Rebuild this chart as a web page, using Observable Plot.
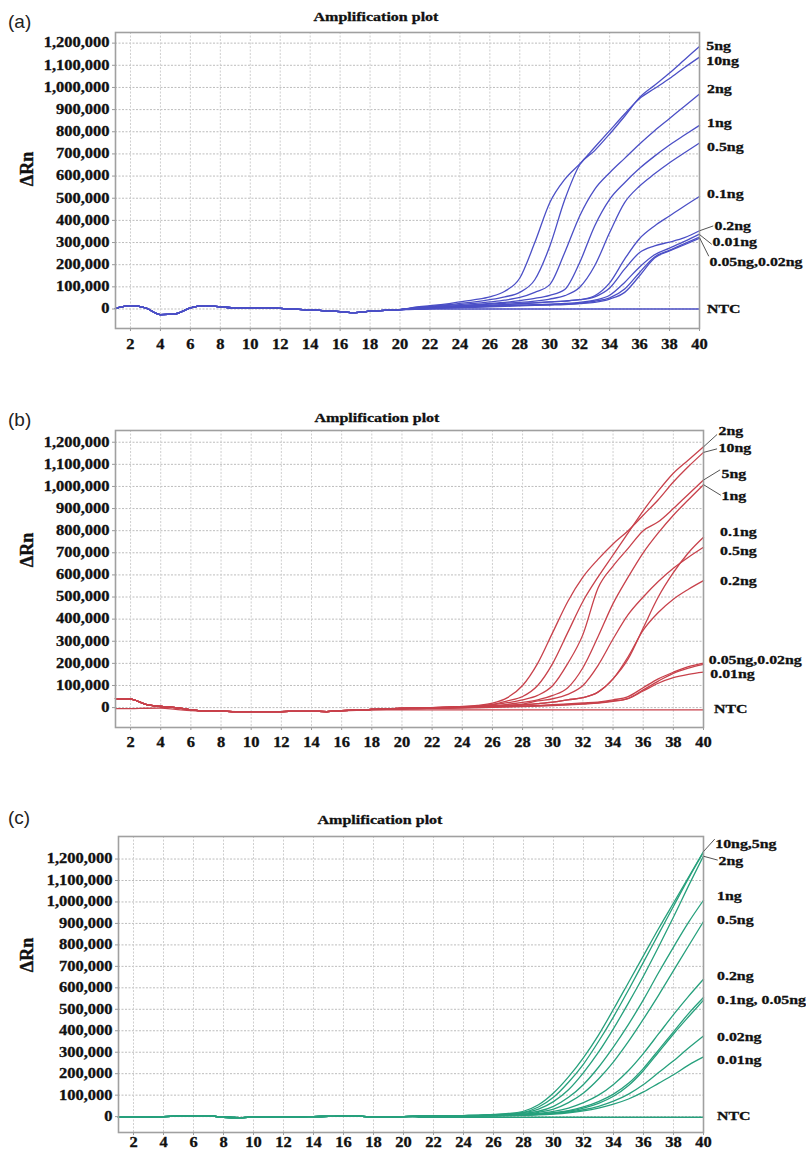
<!DOCTYPE html>
<html><head><meta charset="utf-8">
<script src="https://cdn.jsdelivr.net/npm/d3@7"></script>
<script src="https://cdn.jsdelivr.net/npm/@observablehq/plot@0.6"></script>
<style>
body{margin:0;background:#fff;}
#wrap{position:relative;width:806px;height:1150px;overflow:hidden;background:#fff}
.panel{position:absolute;left:0}
.tag{position:absolute;font-family:"Liberation Sans",Arial,sans-serif;font-size:19px;line-height:19px;color:#222}
.ttl{position:absolute;font-family:"Liberation Serif",serif;font-weight:bold;font-size:12.8px;line-height:13px;transform:translate(-50%,-50%) scaleX(1.25);white-space:nowrap;color:#111;-webkit-text-stroke:0.3px #111}
.ylab{position:absolute;font-family:"Liberation Serif",serif;font-weight:bold;font-size:18px;line-height:18px;transform:translate(-50%,-50%) rotate(-90deg);white-space:nowrap;color:#111;-webkit-text-stroke:0.4px #111}
</style></head>
<body><div id="wrap"></div>
<script>
// ---------------- data (ΔRn in thousands) ----------------
const xTicks = [2,4,6,8,10,12,14,16,18,20,22,24,26,28,30,32,34,36,38,40];
const yTicks = [0,100000,200000,300000,400000,500000,600000,700000,800000,900000,1000000,1100000,1200000];

// Panel (a)
const namesA = ["10ng","5ng","2ng","1ng","0.5ng","0.1ng","0.2ng","0.01ng","0.05ng","0.02ng","NTC"];
const baseA = [3,15,5,-25,-22,5,15,10,5,5,6,3,-1,-4,-8,-12,-16,-10,-6,-3];
const ntcBaseA = [3,15,5,-25,-22,5,15,10,5,5,6,3,-1,-4,-8,-12,-16,-10,-6,-3];
const tailsA = [
 [8,15,22,32,42,55,80,140,300,480,585,655,730,805,880,950,995,1040,1090,1137],
 [6,12,18,25,32,42,55,75,132,283,493,651,715,790,870,955,1010,1065,1125,1185],
 [5,10,15,20,25,32,40,52,75,110,255,420,540,615,680,745,805,860,915,970],
 [4,8,12,16,20,25,30,38,48,62,88,210,375,495,570,635,690,740,785,829],
 [3,6,10,14,18,22,26,30,36,45,60,98,195,345,480,555,610,660,705,749],
 [2,5,8,11,14,17,20,24,28,32,36,42,60,118,225,318,375,420,465,508],
 [2,5,8,11,14,17,20,24,28,32,36,42,55,95,180,255,285,302,322,353],
 [1,3,6,9,12,14,16,18,20,22,25,30,40,62,120,190,245,275,305,338],
 [0,2,5,8,10,12,14,16,18,20,22,26,35,50,90,165,235,265,295,325],
 [0,2,4,6,8,10,12,14,16,18,20,24,30,45,75,150,230,262,290,319],
 [-2,0,0,0,0,0,0,0,0,0,0,0,0,0,0,0,0,0,0,0]
];
const labelsA = ["5ng","10ng","2ng","1ng","0.5ng","0.1ng","0.2ng","0.01ng","0.05ng,0.02ng","NTC"];
const labelYA = [1190,1118,995,840,731,518,374,303,213,3];
const labelXA = [40.45,40.45,40.5,40.5,40.5,40.5,41.0,40.87,40.67,40.5];
const leadersA = [[40,353,40.92,375],[40,336,40.82,292],[40,322,40.62,238]];

// Panel (b)
const namesB = ["10ng","2ng","5ng","1ng","0.5ng","0.1ng","0.2ng","0.05ng","0.02ng","0.01ng","NTC"];
const baseB = [40,38,15,5,0,-10,-15,-16,-18,-18,-18,-18,-17,-17,-18,-14,-12,-8,-6,-4];
const ntcBaseB = [-5,-5,-3,-2,-8,-14,-16,-17,-18,-18,-18,-18,-17,-17,-18,-15,-13,-11,-10,-10];
const tailsB = [
 [-2,0,2,5,10,20,45,100,200,340,480,590,670,740,800,870,940,1020,1090,1154],
 [-2,0,2,4,8,14,30,50,100,200,340,480,590,690,790,890,980,1060,1120,1179],
 [-2,0,2,4,7,12,22,35,55,100,200,330,540,640,720,800,840,900,965,1029],
 [-3,-1,1,3,5,9,15,24,35,55,90,180,320,470,590,700,790,870,940,1008],
 [-3,-1,1,2,4,7,11,16,30,40,60,100,190,310,420,500,570,630,680,725],
 [-3,-2,0,1,3,5,8,12,18,25,35,45,70,130,220,360,500,610,700,770],
 [-3,-2,0,1,3,5,8,12,18,25,35,45,70,130,230,350,430,490,535,574],
 [-4,-3,-2,0,1,3,5,7,10,13,17,21,25,35,50,90,130,160,185,201],
 [-4,-3,-2,-1,0,2,4,6,8,11,14,18,22,30,42,80,120,155,178,195],
 [-4,-3,-2,-1,0,1,3,5,7,9,12,16,20,28,40,75,110,135,150,160],
 [-10,-10,-10,-10,-10,-10,-10,-10,-10,-10,-10,-10,-10,-10,-10,-10,-10,-10,-10,-10]
];
const labelsB = ["2ng","10ng","5ng","1ng","0.1ng","0.5ng","0.2ng","0.05ng,0.02ng","0.01ng","NTC"];
const labelYB = [1250,1176,1056,958,793,710,574,216,153,-5];
const labelXB = [41.0,41.0,41.2,41.2,41.1,41.1,41.1,40.35,40.45,40.7];
const leadersB = [[40,1179,40.9,1235],[40,1154,40.9,1170],[40,1029,41.1,1075],[40,1008,41.15,960]];

// Panel (c)
const namesC = ["10ng","5ng","2ng","1ng","0.5ng","0.2ng","0.1ng","0.05ng","0.02ng","0.01ng","NTC"];
const baseC = [-3,-3,-2,0,2,4,4,-3,-5,-3,-2,-1,-1,0,1,2,2,-2,-2,0];
const ntcBaseC = [-3,-3,-2,0,2,4,4,-3,-5,-3,-2,-1,-1,0,1,2,2,-2,-2,0];
const tailsC = [
 [2,3,4,5,7,10,15,25,55,110,185,275,380,500,625,750,875,995,1115,1235],
 [2,3,4,5,6,9,13,20,45,90,160,245,350,465,590,720,850,980,1110,1232],
 [2,3,4,5,6,8,12,18,35,70,125,205,300,410,530,655,790,930,1075,1215],
 [1,2,3,4,5,7,10,15,25,48,90,150,230,325,430,545,670,790,905,1008],
 [1,2,3,4,5,6,8,12,20,35,65,110,175,255,350,455,565,680,795,909],
 [1,2,3,4,4,5,7,10,15,24,40,65,100,150,215,295,385,475,560,640],
 [1,2,3,3,4,5,6,8,12,18,28,45,70,105,155,225,310,395,480,555],
 [1,2,3,3,4,5,6,8,11,16,25,40,62,95,145,215,300,385,465,543],
 [1,1,2,3,3,4,5,7,10,14,21,32,48,72,105,150,205,260,320,376],
 [1,1,2,3,3,4,5,6,8,12,18,27,40,58,82,115,155,195,240,278],
 [-3,-3,-3,-3,-3,-3,-3,-3,-3,-3,-3,-3,-3,-3,-3,-3,-3,-3,-3,-3]
];
const labelsC = ["10ng,5ng","2ng","1ng","0.5ng","0.2ng","0.1ng, 0.05ng","0.02ng","0.01ng","NTC"];
const labelYC = [1272,1192,1029,915,656,544,373,263,4];
const labelXC = [40.78,41.0,40.9,40.9,40.9,40.9,40.9,40.9,40.9];
const leadersC = [[40,1235,40.75,1293],[40,1213,40.95,1195]];

// ---------------- drawing ----------------
function buildRows(names, base, ntcBase, tails){
  const rows = [];
  names.forEach((name, i) => {
    const vals = (name === "NTC" ? ntcBase : base).concat(tails[i]);
    vals.forEach((v, j) => rows.push({cycle: j + 1, rn: v * 1000, name}));
  });
  return rows;
}

function stretch(svg, sel, k){
  svg.querySelectorAll(sel).forEach(t => {
    const L = t.getComputedTextLength();
    if (L > 0) { t.setAttribute("textLength", (L * k).toFixed(2)); t.setAttribute("lengthAdjust", "spacingAndGlyphs"); }
    t.style.stroke = "#111"; t.style.strokeWidth = "0.3px";
  });
}

function panel(cfg){
  const rows = buildRows(cfg.names, cfg.base, cfg.ntcBase, cfg.tails);
  const labels = cfg.labels.map((t, i) => ({t, x: cfg.labelX[i], y: cfg.labelY[i] * 1000}));
  const leaders = cfg.leaders.map(d => ({x1: d[0], y1: d[1] * 1000, x2: d[2], y2: d[3] * 1000}));
  return Plot.plot({
    width: 806, height: cfg.height,
    marginTop: cfg.mt, marginBottom: cfg.mb, marginLeft: cfg.ml, marginRight: cfg.mr,
    x: {domain: [1, 40]},
    y: {domain: cfg.yDomain},
    style: {fontFamily: '"Liberation Serif", serif', fontWeight: "bold", fontSize: "13.6px", color: "#111", background: "transparent", overflow: "visible"},
    marks: [
      Plot.gridY(yTicks, {stroke: "#bdbdbd", strokeOpacity: 1, strokeDasharray: "2,1.5"}),
      Plot.gridX(xTicks, {stroke: "#cfcfcf", strokeOpacity: 1, strokeDasharray: "2,1.5"}),
      Plot.axisY(yTicks, {tickFormat: d3.format(","), tickSize: 3, tickPadding: cfg.ypad, stroke: "#999", fill: "#111", label: null, fontSize: 13.6, fontWeight: "bold", className: "tk"}),
      Plot.axisX(xTicks, {tickSize: 3, tickPadding: cfg.xpad, stroke: "#999", fill: "#111", label: null, fontSize: 13.6, fontWeight: "bold", className: "tk"}),
      Plot.line(rows, {x: "cycle", y: "rn", z: "name", stroke: cfg.color, strokeWidth: 1.3, curve: "monotone-x"}),
      Plot.frame({stroke: "#a0a0a0", strokeWidth: 1.6}),
      Plot.link(leaders, {x1: "x1", y1: "y1", x2: "x2", y2: "y2", stroke: "#555", strokeWidth: 1}),
      Plot.text(labels, {x: "x", y: "y", text: "t", textAnchor: "start", fontSize: 13, fontWeight: "bold", fill: "#111", className: "lb"})
    ]
  });
}

const wrap = document.getElementById("wrap");
const panels = [
  {top: 0, height: 352, mt: 32, mb: 24, ml: 115, mr: 107, yDomain: [-88000, 1248000], xpad: 8, ypad: 3, color: "#4b4fc6",
   names: namesA, base: baseA, ntcBase: ntcBaseA, tails: tailsA, labels: labelsA, labelX: labelXA, labelY: labelYA, leaders: leadersA,
   tag: "(a)", tagTop: 12, titleX: 376, titleY: 17, ylabY: 169},
  {top: 400, height: 352, mt: 30, mb: 25, ml: 115, mr: 103, yDomain: [-90000, 1253000], xpad: 7, ypad: 3, color: "#c8414b",
   names: namesB, base: baseB, ntcBase: ntcBaseB, tails: tailsB, labels: labelsB, labelX: labelXB, labelY: labelYB, leaders: leadersB,
   tag: "(b)", tagTop: 410, titleX: 377, titleY: 418, ylabY: 550},
  {top: 800, height: 350, mt: 36, mb: 18, ml: 118, mr: 103, yDomain: [-74000, 1305000], xpad: 2, ypad: 3, color: "#26a07c",
   names: namesC, base: baseC, ntcBase: ntcBaseC, tails: tailsC, labels: labelsC, labelX: labelXC, labelY: labelYC, leaders: leadersC,
   tag: "(c)", tagTop: 808, titleX: 380, titleY: 820, ylabY: 955}
];

panels.forEach(cfg => {
  const holder = document.createElement("div");
  holder.className = "panel";
  holder.style.top = cfg.top + "px";
  const svg = panel(cfg);
  holder.appendChild(svg);
  wrap.appendChild(holder);
  stretch(svg, ".tk text", 1.21);
  stretch(svg, ".lb text", 1.22);

  const tag = document.createElement("div");
  tag.className = "tag"; tag.textContent = cfg.tag;
  tag.style.left = "8px"; tag.style.top = cfg.tagTop + "px";
  wrap.appendChild(tag);

  const ttl = document.createElement("div");
  ttl.className = "ttl"; ttl.textContent = "Amplification plot";
  ttl.style.left = cfg.titleX + "px"; ttl.style.top = cfg.titleY + "px";
  wrap.appendChild(ttl);

  const yl = document.createElement("div");
  yl.className = "ylab"; yl.textContent = "ΔRn";
  yl.style.left = "27px"; yl.style.top = cfg.ylabY + "px";
  wrap.appendChild(yl);
});
</script>
</body></html>
